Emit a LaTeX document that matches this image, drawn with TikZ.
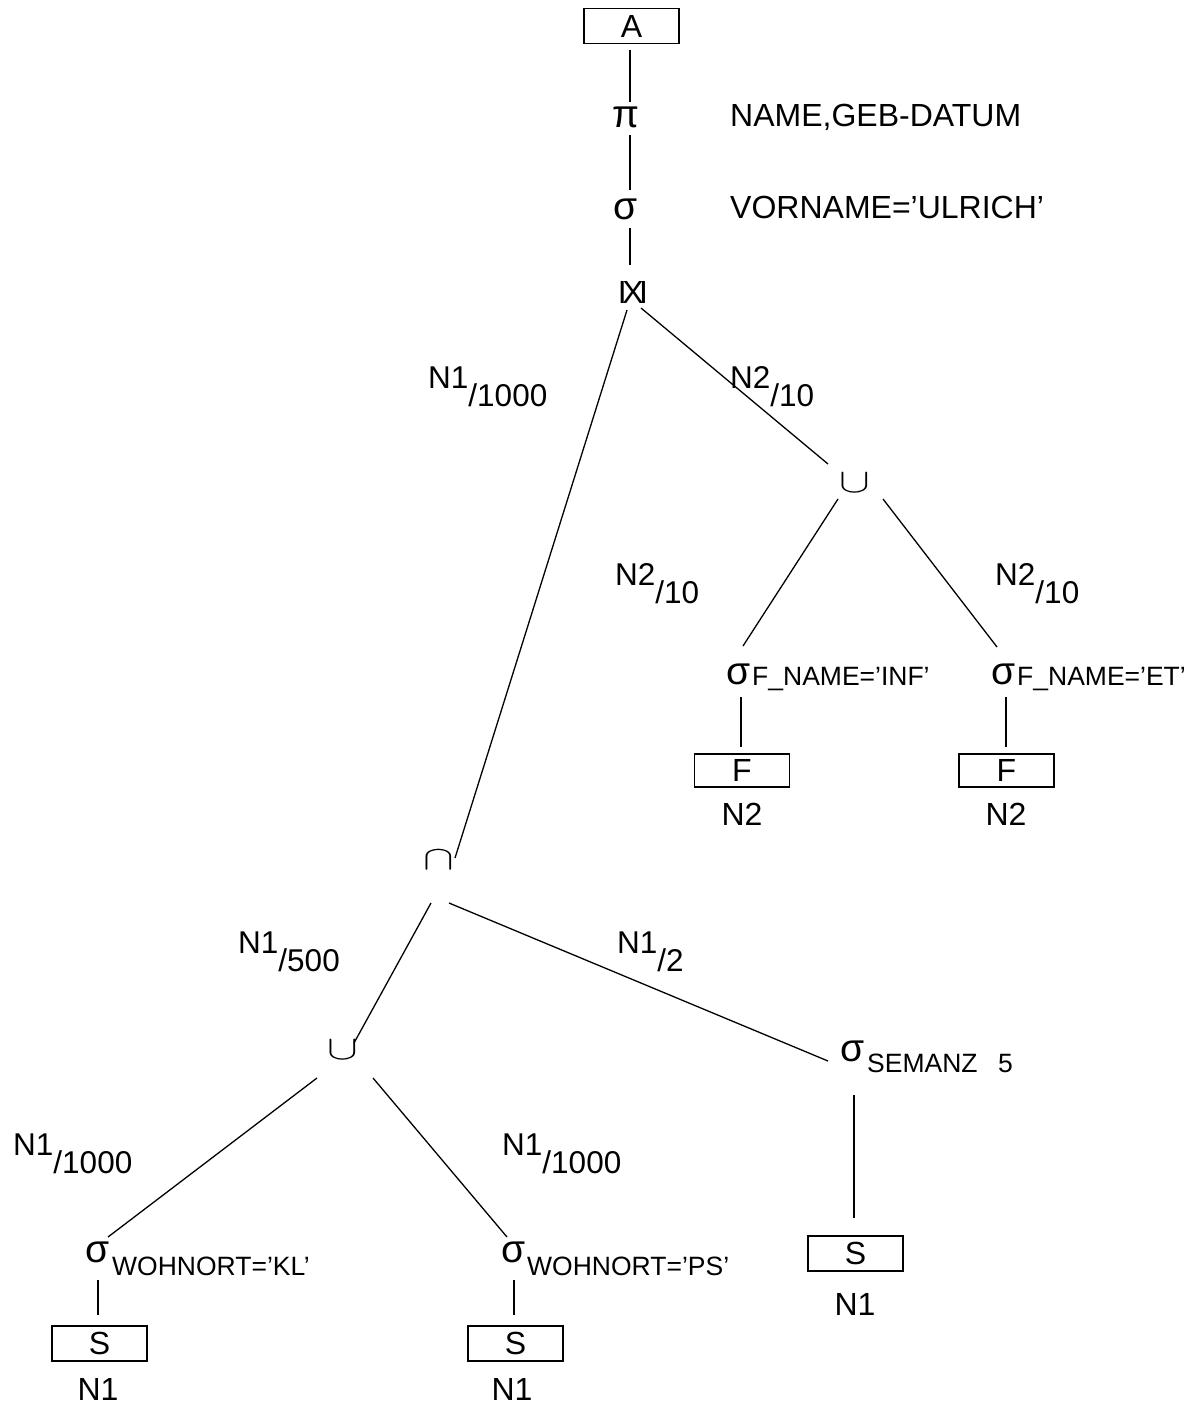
\documentclass[tikz,border=0pt]{standalone}
\usepackage{graphicx}
\usepackage{fontspec}
\setmainfont{Liberation Sans}
\usetikzlibrary{calc}

\tikzset{
  rel/.style={draw, line width=1.2pt, minimum width=95pt, minimum height=35pt,
              inner sep=0pt, font=\fontsize{32}{38}\selectfont},
  op/.style={inner sep=0pt, font=\fontsize{39}{44}\selectfont},
  setop/.style={inner sep=0pt},
  txt/.style={inner sep=0pt, anchor=base west, font=\fontsize{32}{38}\selectfont},
  plain/.style={inner sep=0pt, font=\fontsize{32}{38}\selectfont},
  subtxt/.style={inner sep=0pt, anchor=base west, font=\fontsize{26.5}{30}\selectfont},
  cardlabel/.style={inner sep=0pt, anchor=base west, font=\fontsize{31.5}{36}\selectfont},
  conn/.style={line width=1.3pt},
}
% cardinality: relation name raised, fraction part lowered
\newcommand\cardfrac[2]{#1\raisebox{-18pt}{/#2}}
% set operators drawn from the math symbols, enlarged
\newcommand\bigcupsym{\scalebox{4.6}[3.4]{$\cup$}}
\newcommand\bigcapsym{\scalebox{4.6}[3.4]{$\cap$}}

\begin{document}
\begin{tikzpicture}[x=1pt,y=-1pt]
\useasboundingbox (0,0) rectangle (1195,1405);

% --- upper part of the operator tree
\node[rel] (A) at (631.5,26) {A};
\node[op] (pi) at (626,117) {π};
\node[txt] (projattr) at (730,126) {NAME,GEB-DATUM};
\node[op] (sel) at (626,209) {σ};
\node[txt] (selcond) at (730,218) {VORNAME=’ULRICH’};
\node[plain] (join) at (633,292) {I\kern-4.5pt X\kern-4.5pt I};

% --- right branch: union of two selections on F
\node[setop] (cupT) at (855,483) {\bigcupsym};
\node[op] (sigINF) at (739,674) {σ};
\node[subtxt] (subINF) at (752,685) {F\_NAME=’INF’};
\node[op] (sigET) at (1004,674) {σ};
\node[subtxt] (subET) at (1017,685) {F\_NAME=’ET’};
\node[rel, minimum height=33pt] (F1) at (742,770.5) {F};
\node[rel, minimum height=33pt] (F2) at (1006.5,770.5) {F};
\node[plain] (nF1) at (742,814) {N2};
\node[plain] (nF2) at (1006,814) {N2};

% --- left branch: intersection
\node[setop] (cap) at (439,860) {\bigcapsym};
\node[setop] (cupL) at (343,1050) {\bigcupsym};
\node[op] (sigSEM) at (853,1051) {σ};
\node[subtxt] (subSEM) at (867,1072) {SEMANZ};
\node[subtxt] (valSEM) at (998,1072) {5};
\node[rel] (S3) at (855.5,1253.5) {S};
\node[plain] (nS3) at (855,1304) {N1};

\node[op] (sigKL) at (98,1252) {σ};
\node[subtxt] (subKL) at (112,1275) {WOHNORT=’KL’};
\node[rel] (S1) at (99.5,1343.5) {S};
\node[plain] (nS1) at (98,1389) {N1};

\node[op] (sigPS) at (514,1252) {σ};
\node[subtxt] (subPS) at (527,1275) {WOHNORT=’PS’};
\node[rel] (S2) at (515.5,1343.5) {S};
\node[plain] (nS2) at (512,1389) {N1};

% --- cardinality labels
\node[cardlabel] (c1) at (428,388) {\cardfrac{N1}{1000}};
\node[cardlabel] (c2) at (730,388) {\cardfrac{N2}{10}};
\node[cardlabel] (c3) at (615,585) {\cardfrac{N2}{10}};
\node[cardlabel] (c4) at (995,585) {\cardfrac{N2}{10}};
\node[cardlabel] (c5) at (238,953) {\cardfrac{N1}{500}};
\node[cardlabel] (c6) at (617,953) {\cardfrac{N1}{2}};
\node[cardlabel] (c7) at (13,1155) {\cardfrac{N1}{1000}};
\node[cardlabel] (c8) at (502,1155) {\cardfrac{N1}{1000}};

% --- connectors
\draw[conn] ($(A)+(-1.5,24)$) -- ($(pi)+(4,-15)$);
\draw[conn] ($(pi)+(4,18)$) -- ($(sel)+(4,-19)$);
\draw[conn] ($(sel)+(4,19)$) -- ($(join)+(-3,-27)$);
\draw[conn] ($(join)+(-6,18)$) -- ($(cap)+(16,-2)$);
\draw[conn] ($(join)+(8,16)$) -- ($(cupT)+(-27,-19)$);
\draw[conn] ($(cupT)+(-17,16)$) -- ($(sigINF)+(4,-28)$);
\draw[conn] ($(cupT)+(28,16)$) -- ($(sigET)+(-7,-27)$);
\draw[conn] ($(sigINF)+(2,23)$) -- ($(F1.north)+(-1,-6)$);
\draw[conn] ($(sigET)+(2,23)$) -- ($(F2.north)+(-0.5,-6)$);
\draw[conn] ($(cap)+(-8,43)$) -- ($(cupL)+(11,-7)$);
\draw[conn] ($(cap)+(10,43)$) -- ($(sigSEM)+(-25,10)$);
\draw[conn] ($(sigSEM)+(1,44)$) -- ($(S3.north)+(-1.5,-17)$);
\draw[conn] ($(cupL)+(-26,28)$) -- ($(sigKL)+(10,-15)$);
\draw[conn] ($(cupL)+(30,28)$) -- ($(sigPS)+(-7,-15)$);
\draw[conn] ($(sigKL)+(0,28)$) -- ($(S1.north)+(-1.5,-10)$);
\draw[conn] ($(sigPS)+(0,28)$) -- ($(S2.north)+(-1.5,-10)$);
\end{tikzpicture}
\end{document}
